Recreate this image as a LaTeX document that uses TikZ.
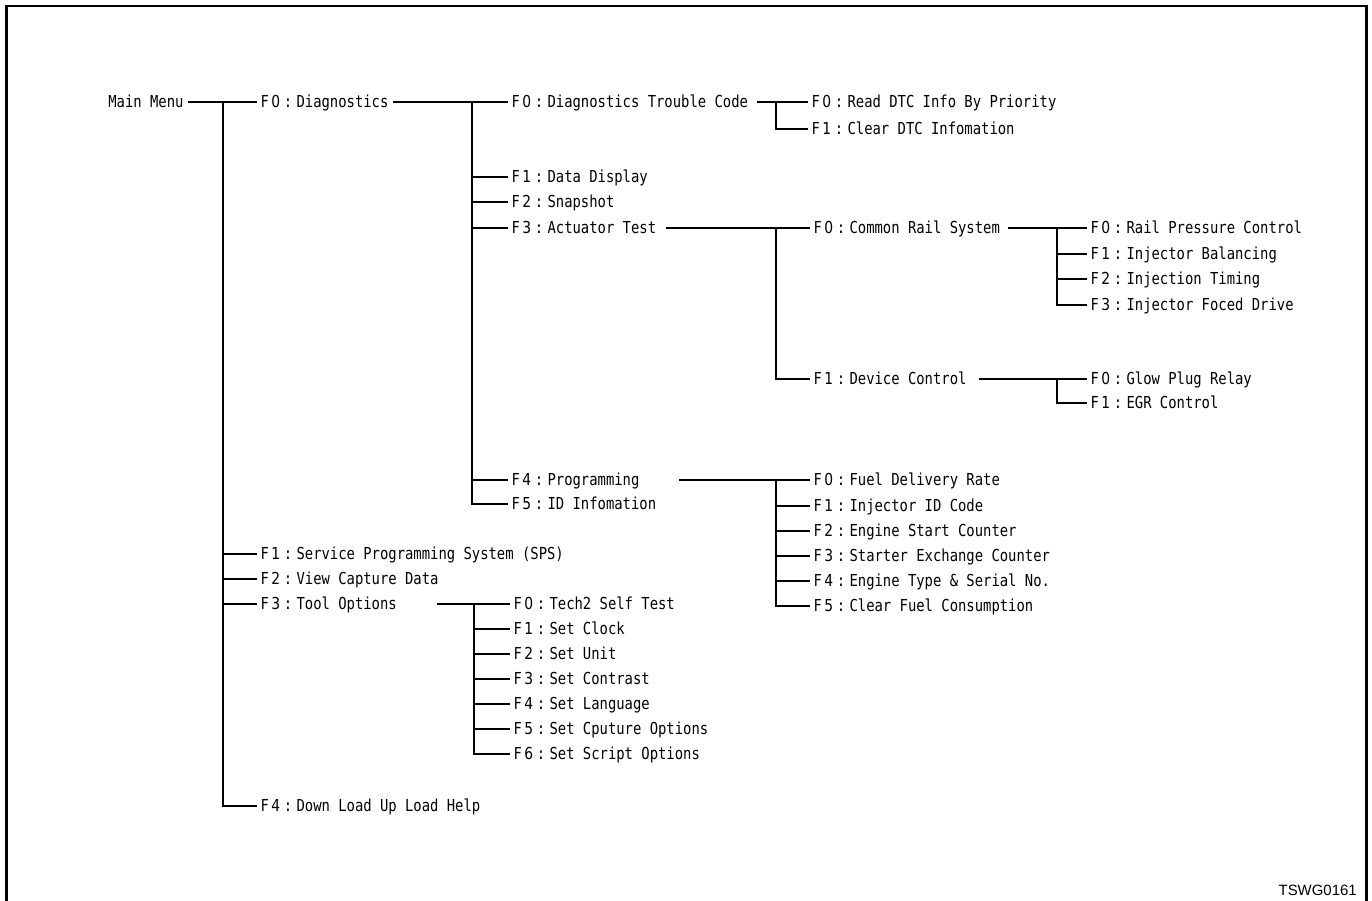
\documentclass[tikz,border=0pt]{standalone}
\usepackage{fontspec}
\setmainfont{Liberation Sans}
\newfontfamily\menufont[FakeStretch=0.84]{DejaVu Sans Mono}
\newfontfamily\keyfont[FakeStretch=0.84]{DejaVu Sans}
\usetikzlibrary{positioning}
\tikzset{
  item/.style={anchor=west,inner xsep=2pt,inner ysep=0pt,text height=6.8pt,text depth=0pt,
    font={\menufont\fontsize{9.4pt}{11pt}\selectfont}},
  wire/.style={line width=.6pt,draw=black},
  frame/.style={line width=1.4pt,draw=black},
  figcode/.style={anchor=base east,inner sep=0pt,font=\fontsize{8.5pt}{10pt}\selectfont}
}
\newcommand\fk[1]{{\keyfont F\kern1.5pt#1}\kern2pt:\kern2.5pt}

\begin{document}
\begin{tikzpicture}[x=0.02cm,y=-0.02cm]
  \useasboundingbox (0,0) rectangle (1372,901);
  \draw[frame] (6.7,901) -- (6.7,6.2) -- (1366.5,6.2) -- (1366.5,901);

  % top level
  \node[item] (mm) at (104.5,102) {Main Menu};
  \coordinate (j0) at (223,102);
  \node[item] (diag) at (257,102) {\fk0Diagnostics};
  \node[item] (sps) at (257,554) {\fk1Service Programming System (SPS)};
  \node[item] (view) at (257,579) {\fk2View Capture Data};
  \node[item] (tool) at (257,604) {\fk3Tool Options};
  \node[item] (help) at (257,806) {\fk4Down Load Up Load Help};
  \draw[wire,shorten <=.02cm] (mm.east) -- (diag.west);
  \foreach \n in {sps,view,tool,help} \draw[wire] (j0) |- (\n.west);

  % diagnostics
  \coordinate (j1) at (472,102);
  \foreach \n/\y/\t in {dtc/102/{\fk0Diagnostics Trouble Code},disp/177/{\fk1Data Display},
      snap/202/{\fk2Snapshot},act/228/{\fk3Actuator Test},prog/480/{\fk4Programming},
      idinfo/504/{\fk5ID Infomation}}
    \node[item] (\n) at (508,\y) {\t};
  \draw[wire,shorten <=.02cm] (diag.east) -- (dtc.west);
  \foreach \n in {disp,snap,act,prog,idinfo} \draw[wire] (j1) |- (\n.west);

  % trouble codes
  \coordinate (j2) at (776,102);
  \node[item] (read) at (808,102) {\fk0Read DTC Info By Priority};
  \node[item] (clear) at (808,129) {\fk1Clear DTC Infomation};
  \draw[wire,shorten <=.1cm] (dtc.east) -- (read.west);
  \draw[wire] (j2) |- (clear.west);

  % actuator test
  \coordinate (j3) at (776,228);
  \node[item] (crs) at (810,228) {\fk0Common Rail System};
  \node[item] (dev) at (810,379) {\fk1Device Control};
  \draw[wire,shorten <=.12cm] (act.east) -- (crs.west);
  \draw[wire] (j3) |- (dev.west);

  \coordinate (j4) at (1057,228);
  \foreach \n/\y/\t in {rpc/228/{\fk0Rail Pressure Control},bal/254/{\fk1Injector Balancing},
      tim/279/{\fk2Injection Timing},drv/305/{\fk3Injector Foced Drive}}
    \node[item] (\n) at (1087,\y) {\t};
  \draw[wire,shorten <=.08cm] (crs.east) -- (rpc.west);
  \foreach \n in {bal,tim,drv} \draw[wire] (j4) |- (\n.west);

  \coordinate (j5) at (1057,379);
  \node[item] (glow) at (1087,379) {\fk0Glow Plug Relay};
  \node[item] (egr) at (1087,403) {\fk1EGR Control};
  \draw[wire,shorten <=.18cm] (dev.east) -- (glow.west);
  \draw[wire] (j5) |- (egr.west);

  % programming
  \coordinate (j6) at (776,480);
  \foreach \n/\y/\t in {fuel/480/{\fk0Fuel Delivery Rate},injid/506/{\fk1Injector ID Code},
      start/531/{\fk2Engine Start Counter},starter/556/{\fk3Starter Exchange Counter},
      etype/581/{\fk4Engine Type \& Serial No.},cons/606/{\fk5Clear Fuel Consumption}}
    \node[item] (\n) at (810,\y) {\t};
  \draw[wire,shorten <=.72cm] (prog.east) -- (fuel.west);
  \foreach \n in {injid,start,starter,etype,cons} \draw[wire] (j6) |- (\n.west);

  % tool options
  \coordinate (j7) at (474,604);
  \foreach \n/\y/\t in {self/604/{\fk0Tech2 Self Test},clock/629/{\fk1Set Clock},
      unit/654/{\fk2Set Unit},contrast/679/{\fk3Set Contrast},lang/704/{\fk4Set Language},
      cpt/729/{\fk5Set Cputure Options},script/754/{\fk6Set Script Options}}
    \node[item] (\n) at (510,\y) {\t};
  \draw[wire,shorten <=.72cm] (tool.east) -- (self.west);
  \foreach \n in {clock,unit,contrast,lang,cpt,script} \draw[wire] (j7) |- (\n.west);

  \node[figcode] (code) at (1357,895) {TSWG0161};
\end{tikzpicture}
\end{document}
